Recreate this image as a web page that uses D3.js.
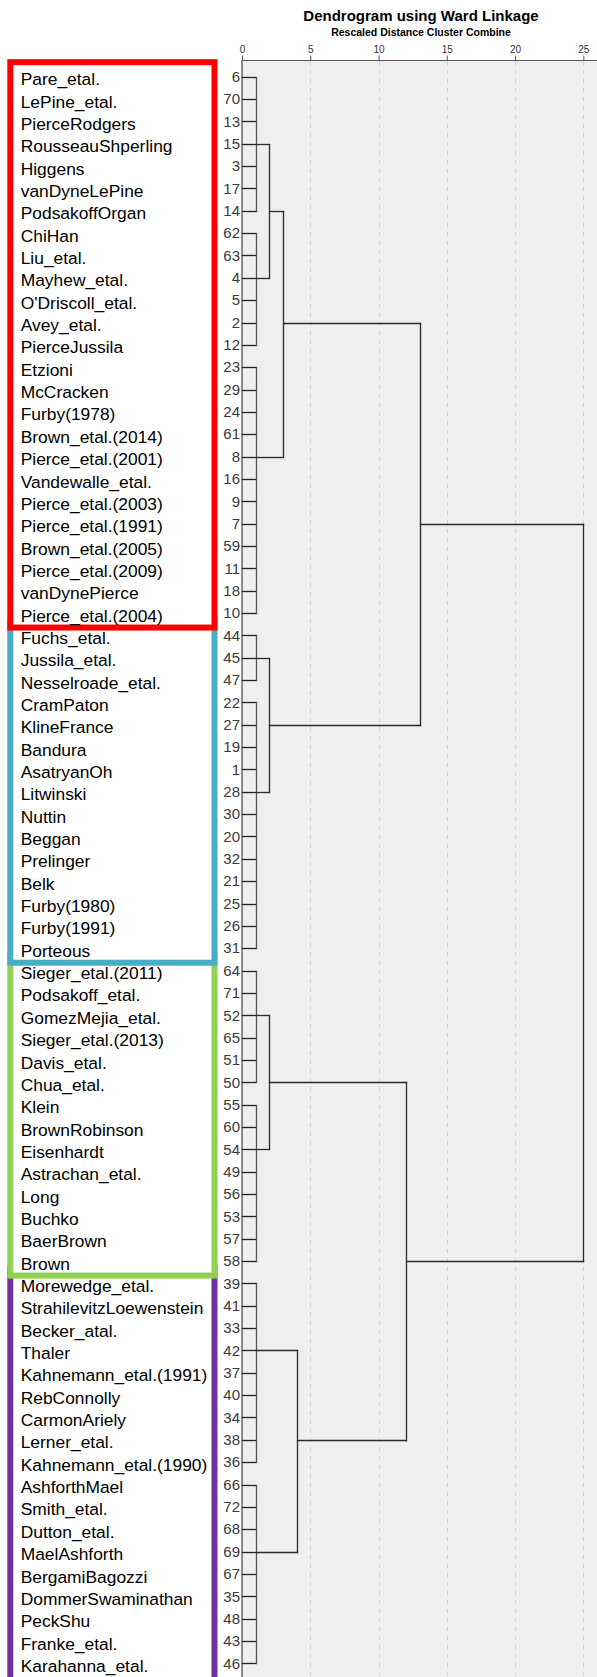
<!DOCTYPE html>
<html>
<head>
<meta charset="utf-8">
<script src="https://cdn.jsdelivr.net/npm/d3@7"></script>
<style>
  body { margin: 0; background: #fff; }
  svg { display: block; font-family: Arial, "Liberation Sans", sans-serif; }
</style>
</head>
<body>
<svg id="chart" width="597" height="1677"></svg>
<script>
"use strict";

// case numbers, top to bottom
let leafIds = [
  "6", "70", "13", "15", "3", "17", "14", "62", "63", "4", "5", "2", "12",
  "23", "29", "24", "61", "8", "16", "9", "7", "59", "11", "18", "10",
  "44", "45", "47", "22", "27", "19", "1", "28", "30", "20", "32", "21", "25", "26", "31",
  "64", "71", "52", "65", "51", "50", "55", "60", "54", "49", "56", "53", "57", "58",
  "39", "41", "33", "42", "37", "40", "34", "38", "36", "66", "72", "68", "69", "67", "35", "48", "43", "46"
];

let leafNames = [
  "Pare_etal.", "LePine_etal.", "PierceRodgers", "RousseauShperling", "Higgens", "vanDyneLePine",
  "PodsakoffOrgan", "ChiHan", "Liu_etal.", "Mayhew_etal.", "O'Driscoll_etal.", "Avey_etal.",
  "PierceJussila", "Etzioni", "McCracken", "Furby(1978)", "Brown_etal.(2014)", "Pierce_etal.(2001)",
  "Vandewalle_etal.", "Pierce_etal.(2003)", "Pierce_etal.(1991)", "Brown_etal.(2005)",
  "Pierce_etal.(2009)", "vanDynePierce", "Pierce_etal.(2004)",
  "Fuchs_etal.", "Jussila_etal.", "Nesselroade_etal.", "CramPaton", "KlineFrance", "Bandura",
  "AsatryanOh", "Litwinski", "Nuttin", "Beggan", "Prelinger", "Belk", "Furby(1980)", "Furby(1991)", "Porteous",
  "Sieger_etal.(2011)", "Podsakoff_etal.", "GomezMejia_etal.", "Sieger_etal.(2013)", "Davis_etal.",
  "Chua_etal.", "Klein", "BrownRobinson", "Eisenhardt", "Astrachan_etal.", "Long", "Buchko", "BaerBrown", "Brown",
  "Morewedge_etal.", "StrahilevitzLoewenstein", "Becker_atal.", "Thaler", "Kahnemann_etal.(1991)",
  "RebConnolly", "CarmonAriely", "Lerner_etal.", "Kahnemann_etal.(1990)", "AshforthMael", "Smith_etal.",
  "Dutton_etal.", "MaelAshforth", "BergamiBagozzi", "DommerSwaminathan", "PeckShu", "Franke_etal.", "Karahanna_etal."
];

// how many labels fall in each coloured box
let groupSizes = [25, 15, 14, 18];

// lowest level clusters: first leaf, last leaf, leaf where the link leaves, distance
let leafClusters = [
  { id: "A", from: "6", to: "14", join: "15", dist: 1 },
  { id: "B", from: "62", to: "12", join: "4", dist: 1 },
  { id: "C", from: "23", to: "10", join: "8", dist: 1 },
  { id: "D", from: "44", to: "47", join: "45", dist: 1 },
  { id: "E", from: "22", to: "31", join: "28", dist: 1 },
  { id: "F", from: "64", to: "50", join: "52", dist: 1 },
  { id: "G", from: "55", to: "58", join: "54", dist: 1 },
  { id: "H", from: "39", to: "36", join: "42", dist: 1 },
  { id: "I", from: "66", to: "46", join: "69", dist: 1 }
];

let merges = [
  { id: "AB", left: "A", right: "B", dist: 2 },
  { id: "ABC", left: "AB", right: "C", dist: 3 },
  { id: "DE", left: "D", right: "E", dist: 2 },
  { id: "ABCDE", left: "ABC", right: "DE", dist: 13 },
  { id: "FG", left: "F", right: "G", dist: 2 },
  { id: "HI", left: "H", right: "I", dist: 4 },
  { id: "FGHI", left: "FG", right: "HI", dist: 12 },
  { id: "root", left: "ABCDE", right: "FGHI", dist: 25 }
];

let tickValues = [0, 5, 10, 15, 20, 25];

let boxColors = ["#ff0000", "#4bacc6", "#92d050", "#7030a0"];

const W = 597, H = 1677;
const svg = d3.select("#chart");

const x = d3.scaleLinear().domain([0, 26]).range([242, 597]);
const y = d3.scaleLinear().domain([0, leafIds.length - 1]).range([76.7, 1663.3]);
const step = y(1) - y(0);
const rowOf = id => leafIds.indexOf(id);

// plot background + grid
svg.append("rect")
  .attr("x", x(0)).attr("y", 60)
  .attr("width", W - x(0)).attr("height", H - 60)
  .attr("fill", "#efefef");

svg.append("g").selectAll("line")
  .data(tickValues.filter(d => d > 0))
  .enter().append("line")
  .attr("x1", d => Math.round(x(d)) + 0.5).attr("x2", d => Math.round(x(d)) + 0.5)
  .attr("y1", 61).attr("y2", H)
  .attr("stroke", "#d2d2d2")
  .attr("stroke-dasharray", "4,5");

// top axis
let axis = svg.append("g")
  .attr("transform", "translate(0,60.5)")
  .call(d3.axisTop(x).tickValues(tickValues).tickSize(5).tickSizeOuter(0).tickPadding(3));
axis.select(".domain").remove();
axis.selectAll(".tick line").attr("stroke", "#555");
axis.selectAll(".tick text").attr("font-size", "10px").attr("fill", "#333").attr("font-family", null);

svg.append("line")
  .attr("x1", x(0)).attr("x2", W)
  .attr("y1", 60.5).attr("y2", 60.5)
  .attr("stroke", "#555").attr("stroke-width", 1.2);
svg.append("line")
  .attr("x1", x(0)).attr("x2", x(0))
  .attr("y1", 60).attr("y2", H)
  .attr("stroke", "#666").attr("stroke-width", 1.5);

// titles
svg.append("text")
  .attr("x", 421).attr("y", 21)
  .attr("text-anchor", "middle")
  .attr("font-size", "15px").attr("font-weight", "bold")
  .text("Dendrogram using Ward Linkage");
svg.append("text")
  .attr("x", 421).attr("y", 36)
  .attr("text-anchor", "middle")
  .attr("font-size", "10.5px").attr("font-weight", "bold")
  .text("Rescaled Distance Cluster Combine");

// coloured boxes, drawn last-to-first so the upper one covers the seam
let groups = [];
let start = 0;
groupSizes.forEach((n, i) => {
  groups.push({ first: start, last: start + n - 1, color: boxColors[i], isLast: i === groupSizes.length - 1 });
  start += n;
});
svg.append("g").selectAll("rect")
  .data(groups.slice().reverse())
  .enter().append("rect")
  .attr("x", 10.3)
  .attr("y", d => y(d.first) - 0.65 * step)
  .attr("width", 204.2)
  .attr("height", d => (y(d.last) + (d.isLast ? 1.2 : 0.65) * step) - (y(d.first) - 0.65 * step))
  .attr("fill", "#fff")
  .attr("stroke", d => d.color)
  .attr("stroke-width", 6);

// labels
svg.append("g").selectAll("text")
  .data(leafNames)
  .enter().append("text")
  .attr("x", 20.7)
  .attr("y", (d, i) => y(i) + 2.5)
  .attr("dy", "0.35em")
  .attr("font-size", "17.4px")
  .attr("fill", "#000")
  .text(d => d);

svg.append("g").selectAll("text")
  .data(leafIds)
  .enter().append("text")
  .attr("x", 240)
  .attr("y", (d, i) => y(i))
  .attr("dy", "0.35em")
  .attr("text-anchor", "end")
  .attr("font-size", "15px")
  .attr("fill", "#3a3a3a")
  .text(d => d);

// dendrogram links
let nodes = {};
let links = [];
const px = v => Math.round(v) + 0.5;

leafClusters.forEach(c => {
  let r0 = rowOf(c.from), r1 = rowOf(c.to);
  for (let r = r0; r <= r1; r++) {
    links.push({ x1: x(0), x2: x(c.dist), y1: y(r), y2: y(r), col: "#222" });
  }
  links.push({ x1: x(c.dist), x2: x(c.dist), y1: y(r0), y2: y(r1), col: "#555" });
  nodes[c.id] = { row: rowOf(c.join), dist: c.dist };
});

merges.forEach(m => {
  let a = nodes[m.left], b = nodes[m.right];
  [a, b].forEach(ch => {
    links.push({ x1: x(ch.dist), x2: x(m.dist), y1: y(ch.row), y2: y(ch.row), col: "#2a2a2a" });
  });
  links.push({ x1: x(m.dist), x2: x(m.dist), y1: y(a.row), y2: y(b.row), col: "#2a2a2a" });
  nodes[m.id] = { row: Math.floor((a.row + b.row) / 2), dist: m.dist };
});

svg.append("g").selectAll("line")
  .data(links)
  .enter().append("line")
  .attr("x1", d => px(d.x1)).attr("x2", d => px(d.x2))
  .attr("y1", d => px(d.y1)).attr("y2", d => px(d.y2))
  .attr("stroke", d => d.col)
  .attr("stroke-width", 1.3)
  .attr("stroke-linecap", "square");
</script>
</body>
</html>
